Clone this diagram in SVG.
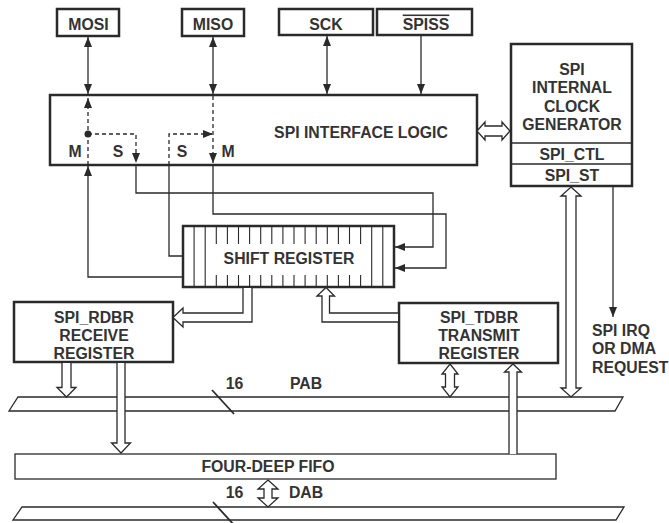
<svg xmlns="http://www.w3.org/2000/svg" width="669" height="523" viewBox="0 0 669 523">
<style>
text{font-family:"Liberation Sans",Arial,sans-serif;font-weight:bold;font-size:15.8px;fill:#333;text-anchor:middle}
.lt{text-anchor:start}
.box{fill:#fff;stroke:#2a2a2a;stroke-width:2.5}
.thin{fill:#fff;stroke:#2a2a2a;stroke-width:1.3}
.ln{fill:none;stroke:#2a2a2a;stroke-width:1.3}
.dash{fill:none;stroke:#2a2a2a;stroke-width:1.3;stroke-dasharray:4 3}
.hol{fill:#fff;stroke:#2a2a2a;stroke-width:1.3;stroke-linejoin:miter}
.tick{stroke:#2a2a2a;stroke-width:1.1}
</style>
<defs>
<marker id="ah" markerUnits="userSpaceOnUse" markerWidth="10" markerHeight="8" refX="10" refY="4" orient="auto-start-reverse">
<path d="M0,0 L10,4 L0,8 Z" fill="#2a2a2a"/>
</marker>
</defs>

<!-- buses -->
<g id="pab">
<polygon class="thin" points="18,397 623,397 615,411 9,411"/>
<line class="ln" x1="212" y1="390" x2="234" y2="414" style="stroke-width:1.8"/>
<text x="234.5" y="389">16</text>
<text x="306" y="389">PAB</text>
</g>
<g id="dab">
<polygon class="thin" points="22,507 624,507 616,520 13,520"/>
<line class="ln" x1="213" y1="502" x2="235" y2="526" style="stroke-width:1.8"/>
<text x="234.5" y="498">16</text>
<text x="306" y="498">DAB</text>
</g>
<g id="fifo">
<rect class="thin" x="15" y="454" width="541" height="25"/>
<text x="268" y="472">FOUR-DEEP FIFO</text>
</g>

<g id="mosi">
<rect class="box" x="57" y="9" width="62" height="27"/>
<text x="88.5" y="29.5">MOSI</text>
</g>
<g id="miso">
<rect class="box" x="182" y="9" width="62" height="27"/>
<text x="213" y="29.5">MISO</text>
</g>
<g id="sck">
<rect class="box" x="279" y="9" width="94" height="26"/>
<text x="326" y="29.5">SCK</text>
</g>
<g id="spiss">
<rect class="box" x="377" y="9" width="95" height="26"/>
<text x="426" y="29.5" text-decoration="overline">SPISS</text>
</g>

<g id="interface-logic">
<rect class="box" x="50" y="95" width="427" height="70"/>
<text x="361" y="138">SPI INTERFACE LOGIC</text>
<text x="75" y="157">M</text>
<text x="118" y="157">S</text>
<text x="182" y="157">S</text>
<text x="228" y="157">M</text>
</g>

<g id="clock-generator">
<rect class="box" x="511" y="44" width="121" height="142"/>
<line class="ln" x1="511" y1="143" x2="632" y2="143"/>
<line class="ln" x1="511" y1="164" x2="632" y2="164"/>
<text x="572" y="74.5">SPI</text>
<text x="572" y="93">INTERNAL</text>
<text x="572" y="111.5">CLOCK</text>
<text x="572" y="130">GENERATOR</text>
<text x="572" y="159.5">SPI_CTL</text>
<text x="572" y="180.5">SPI_ST</text>
</g>

<g id="shift-register">
<rect class="box" x="183" y="226" width="211" height="61"/>
<g class="tick">
<line x1="194.1" y1="226" x2="194.1" y2="287"/>
<line x1="205.2" y1="226" x2="205.2" y2="287"/>
<line x1="371.7" y1="226" x2="371.7" y2="287"/>
<line x1="382.8" y1="226" x2="382.8" y2="287"/>
<path d="M216.3,226V244M227.4,226V244M238.5,226V244M249.6,226V244M260.7,226V244M271.8,226V244M282.9,226V244M294,226V244M305.1,226V244M316.2,226V244M327.3,226V244M338.4,226V244M349.5,226V244M360.6,226V244"/>
<path d="M216.3,275V287M227.4,275V287M238.5,275V287M249.6,275V287M260.7,275V287M271.8,275V287M282.9,275V287M294,275V287M305.1,275V287M316.2,275V287M327.3,275V287M338.4,275V287M349.5,275V287M360.6,275V287"/>
</g>
<text x="289" y="264">SHIFT REGISTER</text>
</g>

<g id="rdbr">
<rect class="box" x="14" y="302" width="159" height="60"/>
<text x="94" y="323">SPI_RDBR</text>
<text x="94" y="341">RECEIVE</text>
<text x="94" y="359">REGISTER</text>
</g>
<g id="tdbr">
<rect class="box" x="399" y="303" width="159" height="60"/>
<text x="479" y="323">SPI_TDBR</text>
<text x="479" y="341">TRANSMIT</text>
<text x="479" y="359">REGISTER</text>
</g>

<g id="irq-label">
<text class="lt" x="592" y="335.5">SPI IRQ</text>
<text class="lt" x="592" y="354">OR DMA</text>
<text class="lt" x="592" y="372.5">REQUEST</text>
</g>

<g id="connectors">
<!-- pins -->
<line class="ln" x1="88" y1="37" x2="88" y2="94" marker-start="url(#ah)" marker-end="url(#ah)"/>
<line class="ln" x1="213" y1="37" x2="213" y2="94" marker-start="url(#ah)" marker-end="url(#ah)"/>
<line class="ln" x1="327" y1="36" x2="327" y2="94" marker-start="url(#ah)" marker-end="url(#ah)"/>
<line class="ln" x1="421" y1="36" x2="421" y2="94" marker-end="url(#ah)"/>
<!-- dashed internal paths -->
<line class="dash" x1="88" y1="165" x2="88" y2="98" marker-end="url(#ah)"/>
<circle cx="88" cy="134" r="3.5" fill="#2a2a2a"/>
<polyline class="dash" points="88,134 136,134 136,163" marker-end="url(#ah)"/>
<polyline class="dash" points="169,165 169,134 213,134" marker-end="url(#ah)"/>
<line class="dash" x1="213" y1="96" x2="213" y2="163" marker-end="url(#ah)"/>
<!-- solid paths to shift register -->
<polyline class="ln" points="183,277 88,277 88,166" marker-end="url(#ah)"/>
<polyline class="ln" points="136,165 136,193 433,193 433,247 395,247" marker-end="url(#ah)"/>
<polyline class="ln" points="213,165 213,214 446,214 446,268 395,268" marker-end="url(#ah)"/>
<polyline class="ln" points="169,165 169,256 183,256"/>
<line class="ln" x1="613" y1="187" x2="613" y2="317" marker-end="url(#ah)"/>
<!-- hollow bus arrows -->
<polygon class="hol" points="477,131 485,122 485,126 502,126 502,122 510,131 502,140 502,136 485,136 485,140"/>
<path class="hol" d="M243,288 V313 H183 V308 L173,317.5 L183,327 V322 H252 V288"/>
<path class="hol" d="M398,313 H329.5 V296 H334.5 L326,287.5 L317,296 H322 V322 H398"/>
<path class="hol" d="M62,363 V387.5 H57 L66.5,397 L76,387.5 H71 V363"/>
<path class="hol" d="M117,363 V443 H111.5 L121,453 L130.5,443 H125 V363"/>
<polygon class="hol" points="450,364 458,374 454.5,374 454.5,387 458,387 450,397 442,387 445.5,387 445.5,374 442,374"/>
<path class="hol" d="M509,454 V372 H504.5 L513,364 L521.5,372 H517 V454"/>
<polygon class="hol" points="571,187 581,196 576,196 576,388 581,388 571,397 561,388 566,388 566,196 561,196"/>
<polygon class="hol" points="268,480 278,489 272,489 272,498 278,498 268,507 258,498 264,498 264,489 258,489"/>
</g>
</svg>
